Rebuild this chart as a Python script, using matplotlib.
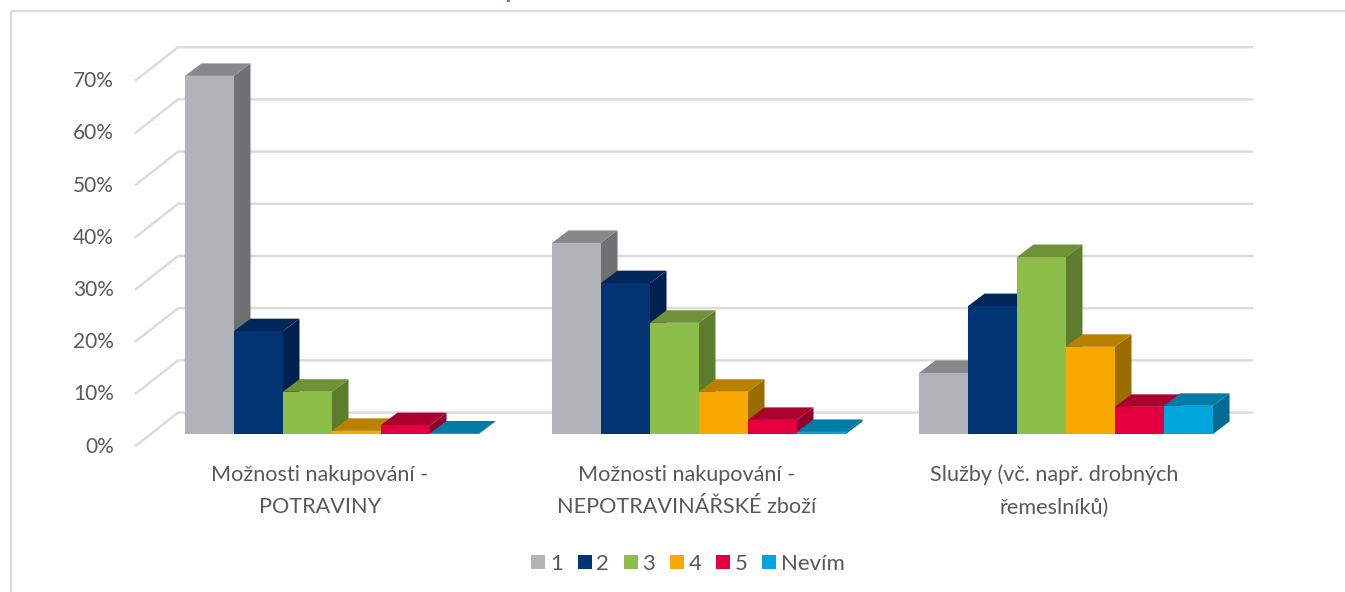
import matplotlib
matplotlib.use("Agg")
import matplotlib.pyplot as plt
from matplotlib.patches import Polygon, Rectangle, Patch

plt.rcParams['font.family'] = ['Lato', 'DejaVu Sans']

categories = ["Možnosti nakupování -\nPOTRAVINY",
              "Možnosti nakupování -\nNEPOTRAVINÁŘSKÉ zboží",
              "Služby (vč. např. drobných\nřemeslníků)"]
series_names = ["1", "2", "3", "4", "5", "Nevím"]
s1 = [68.6, 36.6, 11.7]
s2 = [19.7, 28.9, 24.5]
s3 = [8.1, 21.3, 33.9]
s4 = [0.6, 8.1, 16.7]
s5 = [1.7, 2.7, 5.2]
s6 = [0.1, 0.4, 5.4]
series_values = [s1, s2, s3, s4, s5, s6]
y_ticks = [0, 10, 20, 30, 40, 50, 60, 70]

front_cols = ["#B1B3B6", "#003473", "#8DBE4A", "#F8A800", "#E4003F", "#00A6DD"]
top_cols = ["#87888A", "#00265A", "#6F9138", "#BA8000", "#AC0031", "#007CA6"]
side_cols = ["#6F7072", "#00214F", "#5C7C2E", "#9B6C00", "#8E002B", "#006B90"]
TEXT = "#595959"
GRID = "#DCDCDC"

W, H = 1345, 592
PX_X = 367.0            # pixels per category
PX_Y = 5.22             # pixels per percent
X0_PX, Y0_PX = 332, 434 # first category centre, bar baseline

fig = plt.figure(figsize=(W / 100, H / 100), dpi=100)
ax = fig.add_axes([0, 0, 1, 1])
ax.set_xlim(-X0_PX / PX_X, (W - X0_PX) / PX_X)
ax.set_ylim(-(H - Y0_PX) / PX_Y, Y0_PX / PX_Y)
ax.axis("off")

def px(dx): return dx / PX_X
def py(dy): return dy / PX_Y

# outer frame (left and top edges)
fx = -X0_PX / PX_X + px(11)
ftop = Y0_PX / PX_Y - py(11)
ax.plot([fx, fx], [-(H - Y0_PX) / PX_Y, ftop], color=GRID, lw=1.7, solid_capstyle="butt")
ax.plot([fx, (W - X0_PX) / PX_X], [ftop, ftop], color=GRID, lw=1.7, solid_capstyle="butt")

# clipped remnant of text above the frame
ax.add_patch(Rectangle((px(507 - X0_PX), Y0_PX / PX_Y - py(2)), px(3), py(2),
                       fc="#4A86C8", ec="none"))

# wall grid and floor-side lines
wall_l = px(178 - X0_PX)
wall_r = px(1252 - X0_PX)
wall_dy = py(21.4)
side_dx, side_dy = px(-42), py(-33)
for v in y_ticks:
    y = v + wall_dy
    ax.plot([wall_l + side_dx, wall_l, wall_r], [y + side_dy, y, y],
            color=GRID, lw=1.8, solid_joinstyle="miter", zorder=1)
    ax.text(px(114 - X0_PX), y + side_dy + py(-1), f"{v}%", ha="right", va="center",
            color=TEXT, fontsize=15)

# 3D bars
bw = px(49)
dx, dy = px(16.5), py(12.5)
z = 2
for c in range(len(categories)):
    for s, vals in enumerate(series_values):
        v = vals[c]
        x = c + (s - 3) * bw
        ax.add_patch(Polygon([(x + bw, 0), (x + bw + dx, dy), (x + bw + dx, v + dy), (x + bw, v)],
                             fc=side_cols[s], ec="none", zorder=z))
        ax.add_patch(Polygon([(x, v), (x + dx, v + dy), (x + bw + dx, v + dy), (x + bw, v)],
                             fc=top_cols[s], ec="none", zorder=z))
        ax.add_patch(Rectangle((x, 0), bw, v, fc=front_cols[s], ec="none", zorder=z))
        z += 1
    ax.text(c - px(12), py(-57), categories[c], ha="center", va="center", color=TEXT,
            fontsize=15.6, linespacing=1.76)

handles = [Patch(fc=col, ec="none", label=n) for col, n in zip(front_cols, series_names)]
leg = ax.legend(handles=handles, ncol=6, frameon=False, loc="center",
                bbox_to_anchor=(688 / W, 1 - 564 / H), fontsize=16,
                labelcolor=TEXT, handlelength=0.63, handleheight=0.63, handletextpad=0.2,
                columnspacing=0.67, borderpad=0, borderaxespad=0)

fig.savefig("out.png", dpi=100)
